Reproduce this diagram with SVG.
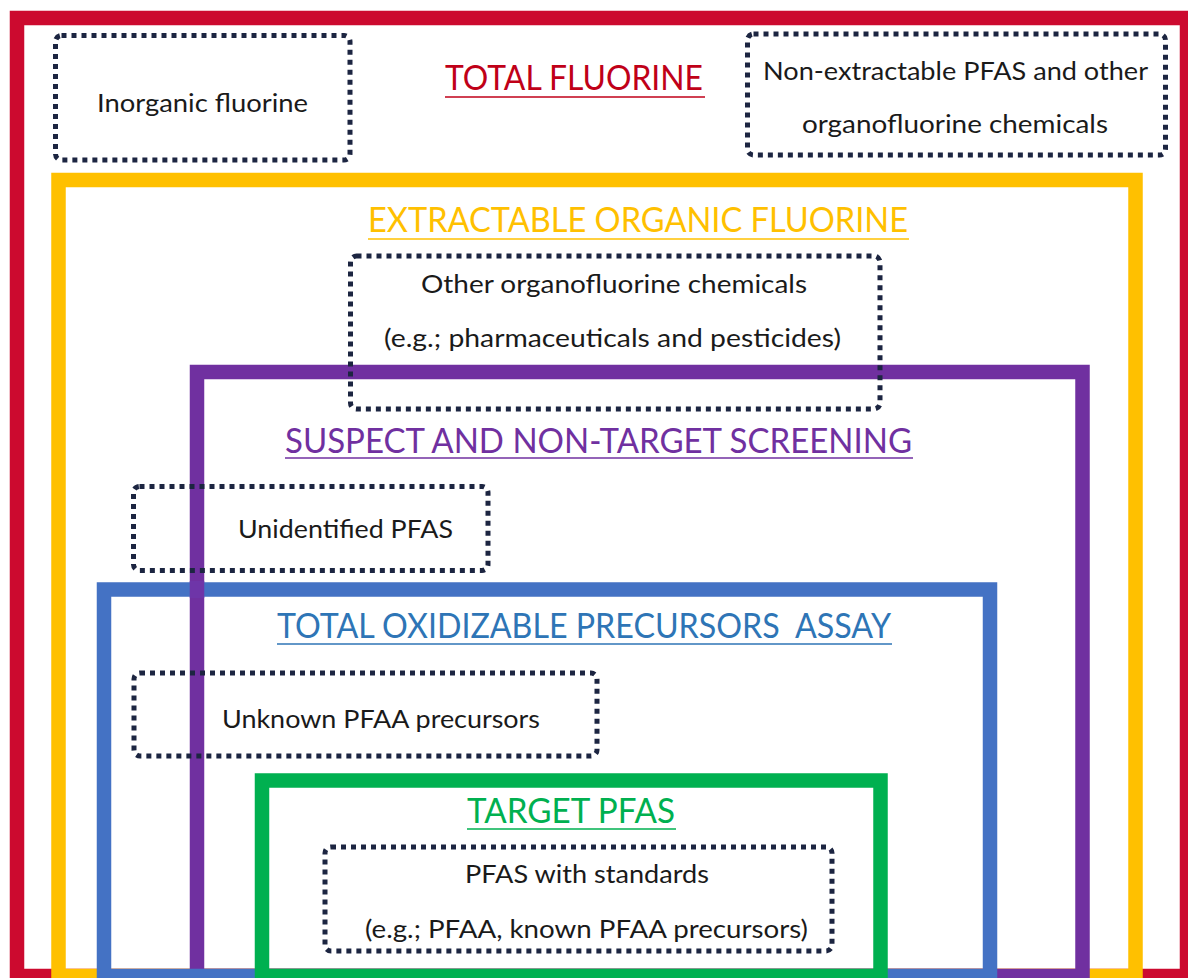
<svg xmlns="http://www.w3.org/2000/svg" width="1188" height="978" viewBox="0 0 1188 978">
<style>
.frame{fill:none;stroke-width:14.5;stroke-linejoin:miter}
.dot{fill:none;stroke:#1C2541;stroke-width:5;stroke-dasharray:5 5}
.t{font-family:Lato,"Open Sans","Liberation Sans",sans-serif;font-size:25px;fill:#1a1a1a;text-anchor:start}
.h{font-family:Lato,"Open Sans","Liberation Sans",sans-serif;font-size:34px;text-anchor:start}
.u{stroke-width:1.6}
</style>
<rect width="1188" height="978" fill="#ffffff"/>
<g id="total-fluorine">
<rect class="frame" x="17" y="18" width="1170" height="958" stroke="#CC0A2F"/>
<text class="h" x="445" y="90" textLength="258" lengthAdjust="spacingAndGlyphs" fill="#C00018">TOTAL FLUORINE</text>
<line class="u" x1="445" y1="97" x2="705" y2="97" stroke="#C00018"/>
</g>
<g id="extractable-organic-fluorine">
<rect class="frame" x="58.5" y="180" width="1077" height="796" stroke="#FFC000"/>
<text class="h" x="368" y="232" textLength="540" lengthAdjust="spacingAndGlyphs" fill="#FFC000">EXTRACTABLE ORGANIC FLUORINE</text>
<line class="u" x1="368" y1="239" x2="909" y2="239" stroke="#FFC000"/>
</g>
<g id="suspect-non-target">
<rect class="frame" x="197" y="372" width="885.5" height="604" stroke="#7030A0"/>
<text class="h" x="285" y="453" textLength="627" lengthAdjust="spacingAndGlyphs" fill="#7030A0">SUSPECT AND NON-TARGET SCREENING</text>
<line class="u" x1="285" y1="458" x2="913" y2="458" stroke="#7030A0"/>
</g>
<g id="top-assay">
<rect class="frame" x="104" y="589.5" width="886" height="386.5" stroke="#4472C4"/>
<line x1="197" y1="581" x2="197" y2="598" stroke="#6E35A8" stroke-width="14.5"/>
<text class="h" x="277" y="638" textLength="614" lengthAdjust="spacingAndGlyphs" fill="#2E75B6" xml:space="preserve">TOTAL OXIDIZABLE PRECURSORS  ASSAY</text>
<line class="u" x1="277" y1="644" x2="892" y2="644" stroke="#2E75B6"/>
</g>
<g id="target-pfas">
<rect class="frame" x="262" y="780.5" width="618.5" height="195.5" stroke="#00B050"/>
<text class="h" x="467" y="823" textLength="208" lengthAdjust="spacingAndGlyphs" fill="#00B050">TARGET PFAS</text>
<line class="u" x1="467" y1="829" x2="676" y2="829" stroke="#00B050"/>
</g>
<g id="inorganic-fluorine">
<rect class="dot" x="55.5" y="35.5" width="294.5" height="124.5" rx="6"/>
<text class="t" x="97" y="112" textLength="211" lengthAdjust="spacingAndGlyphs">Inorganic fluorine</text>
</g>
<g id="non-extractable">
<rect class="dot" x="747.5" y="34" width="418" height="121" rx="6"/>
<text class="t" x="763" y="80" textLength="385" lengthAdjust="spacingAndGlyphs">Non-extractable PFAS and other</text>
<text class="t" x="802" y="133" textLength="306" lengthAdjust="spacingAndGlyphs">organofluorine chemicals</text>
</g>
<g id="other-organofluorine">
<rect class="dot" x="350.5" y="256" width="529.5" height="153" rx="6"/>
<text class="t" x="421" y="293" textLength="386" lengthAdjust="spacingAndGlyphs">Other organofluorine chemicals</text>
<text class="t" x="384" y="347" textLength="457" lengthAdjust="spacingAndGlyphs">(e.g.; pharmaceuticals and pesticides)</text>
</g>
<g id="unidentified-pfas">
<rect class="dot" x="133.5" y="486.5" width="354.5" height="84" rx="6"/>
<text class="t" x="238" y="538" textLength="215" lengthAdjust="spacingAndGlyphs">Unidentified PFAS</text>
</g>
<g id="unknown-precursors">
<rect class="dot" x="134" y="673" width="463" height="83" rx="6"/>
<text class="t" x="222" y="728" textLength="318" lengthAdjust="spacingAndGlyphs">Unknown PFAA precursors</text>
</g>
<g id="pfas-with-standards">
<rect class="dot" x="325" y="847" width="507" height="104" rx="6"/>
<text class="t" x="465" y="883" textLength="244" lengthAdjust="spacingAndGlyphs">PFAS with standards</text>
<text class="t" x="365" y="938" textLength="443" lengthAdjust="spacingAndGlyphs">(e.g.; PFAA, known PFAA precursors)</text>
</g>
<g id="connectors"/>
</svg>
